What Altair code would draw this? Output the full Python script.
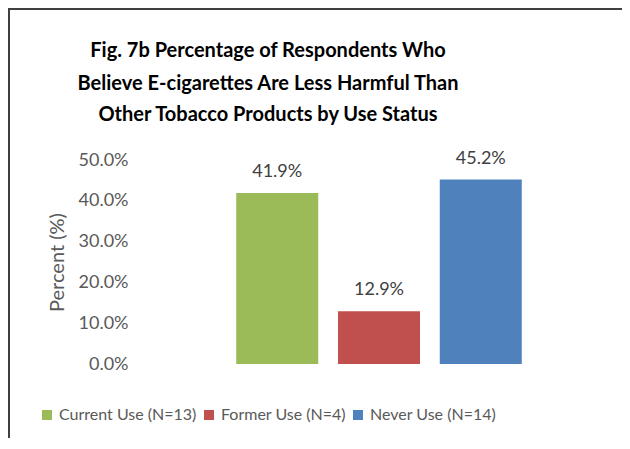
import altair as alt
import pandas as pd

categories = ["Current Use (N=13)", "Former Use (N=4)", "Never Use (N=14)"]
values = [0.419, 0.129, 0.452]
colors = ["#9BBB59", "#C0504D", "#4F81BD"]
y_ticks = [0.0, 0.1, 0.2, 0.3, 0.4, 0.5]
title_lines = [
    "Fig. 7b Percentage of Respondents Who",
    "Believe E-cigarettes Are Less Harmful Than",
    "Other Tobacco Products by Use Status",
]

FONT = "Lato"
df = pd.DataFrame({"cat": categories, "val": values})

base = alt.Chart(df).encode(
    x=alt.X("cat:N", sort=categories, axis=None,
            scale=alt.Scale(paddingInner=0.196, paddingOuter=0.976)),
    y=alt.Y("val:Q", scale=alt.Scale(domain=[0, 0.5]),
            axis=alt.Axis(values=y_ticks, format=".1%", title="Percent (%)",
                          domain=False, ticks=False, grid=False,
                          labelPadding=9, labelFont=FONT, labelFontSize=18,
                          labelColor="#595959", titleFont=FONT, titleFontSize=20,
                          titleFontWeight="normal", titleColor="#595959",
                          titlePadding=11)),
)

bars = base.mark_bar(size=82).encode(
    color=alt.Color("cat:N", sort=categories,
                    scale=alt.Scale(domain=categories, range=colors),
                    legend=alt.Legend(title=None, orient="none", direction="horizontal",
                                      legendX=-98, legendY=247,
                                      symbolType="square", symbolSize=100,
                                      symbolStrokeWidth=0, symbolOpacity=1,
                                      labelFont=FONT, labelFontSize=16,
                                      labelColor="#595959", labelOffset=4,
                                      columnPadding=4))
)

labels = base.mark_text(baseline="alphabetic", dy=-16, font=FONT, fontSize=18,
                        color="#404040").encode(text=alt.Text("val:Q", format=".1%"))

one = pd.DataFrame({"k": [0]})
title_y = [-103, -70.5, -39]
title_layers = [
    alt.Chart(one).mark_text(font=FONT, fontSize=20, fontWeight="bold", color="#000000",
                             align="center", baseline="alphabetic").encode(
        x=alt.value(131), y=alt.value(ty), text=alt.value(line))
    for line, ty in zip(title_lines, title_y)
]

top_line = alt.Chart(one).mark_rule(color="#404040", strokeWidth=2).encode(
    x=alt.value(-128), x2=alt.value(486), y=alt.value(-151))
left_line = alt.Chart(one).mark_rule(color="#404040", strokeWidth=2).encode(
    x=alt.value(-128), y=alt.value(-152), y2=alt.value(300))

chart = alt.layer(bars, labels, *title_layers, top_line, left_line).properties(
    width=484, height=204,
    autosize=alt.AutoSizeParams(type="none"),
    padding={"left": 129, "top": 152, "right": 1, "bottom": 74},
).configure_view(stroke=None)

chart.save("out.html", embed_options={"renderer": "svg", "actions": False})
